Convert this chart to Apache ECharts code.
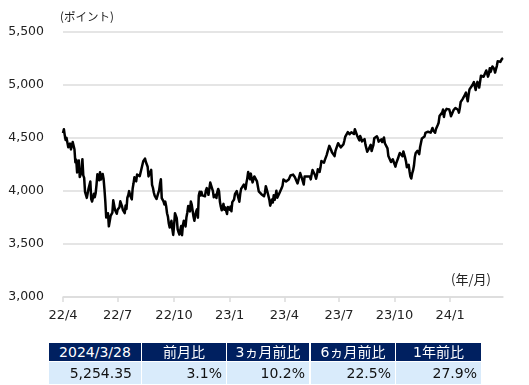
<!DOCTYPE html>
<html><head><meta charset="utf-8">
<script src="https://cdn.jsdelivr.net/npm/echarts@6/dist/echarts.min.js"></script>
<style>
html,body{margin:0;padding:0;background:#fff;width:529px;height:385px;overflow:hidden;}
#chart{position:absolute;left:0;top:0;width:529px;height:385px;}
.c{position:absolute;box-sizing:border-box;font-family:"DejaVu Sans","Noto Sans CJK JP",sans-serif;font-size:14px;white-space:nowrap;}
.h{background:#002060;color:#fff;text-align:center;height:18px;line-height:19px;}
.d{background:#d9ebfb;color:#111;text-align:right;height:22px;line-height:23px;padding-right:4px;}
</style></head><body>
<div id="chart"></div>
<div id="tbl"></div>
<script>
// Trading days (MMDD) and S&P 500 closes, one line per month
const days2022 = [
 '0401','0404','0405','0406','0407','0408','0411','0412','0413','0414','0418','0419','0420','0421','0422','0425','0426','0427','0428','0429',
 '0502','0503','0504','0505','0506','0509','0510','0511','0512','0513','0516','0517','0518','0519','0520','0523','0524','0525','0526','0527','0531',
 '0601','0602','0603','0606','0607','0608','0609','0610','0613','0614','0615','0616','0617','0621','0622','0623','0624','0627','0628','0629','0630',
 '0701','0705','0706','0707','0708','0711','0712','0713','0714','0715','0718','0719','0720','0721','0722','0725','0726','0727','0728','0729',
 '0801','0802','0803','0804','0805','0808','0809','0810','0811','0812','0815','0816','0817','0818','0819','0822','0823','0824','0825','0826','0829','0830','0831',
 '0901','0902','0906','0907','0908','0909','0912','0913','0914','0915','0916','0919','0920','0921','0922','0923','0926','0927','0928','0929','0930',
 '1003','1004','1005','1006','1007','1010','1011','1012','1013','1014','1017','1018','1019','1020','1021','1024','1025','1026','1027','1028','1031',
 '1101','1102','1103','1104','1107','1108','1109','1110','1111','1114','1115','1116','1117','1118','1121','1122','1123','1125','1128','1129','1130',
 '1201','1202','1205','1206','1207','1208','1209','1212','1213','1214','1215','1216','1219','1220','1221','1222','1223','1227','1228','1229','1230'
];
const close2022 = [
 4545.9,4582.6,4525.1,4481.2,4500.2,4488.3,4412.5,4397.5,4446.6,4392.6,4391.7,4462.2,4459.5,4393.7,4271.8,4296.1,4175.2,4183.9,4287.5,4131.9,
 4155.4,4175.5,4300.2,4146.9,4123.3,3991.2,4001.1,3935.2,3930.1,4023.9,4008.0,4088.9,3923.7,3900.8,3901.4,3973.8,3941.5,3978.7,4057.8,4158.2,4132.2,
 4101.2,4176.8,4108.5,4121.4,4160.7,4115.8,4017.8,3900.9,3749.6,3735.5,3790.0,3666.8,3674.8,3764.8,3759.9,3795.7,3911.7,3900.1,3821.6,3818.8,3785.4,
 3825.3,3831.4,3845.1,3902.6,3899.4,3854.4,3818.8,3801.8,3790.4,3863.2,3830.9,3936.7,3959.9,3998.9,3961.6,3966.8,3921.1,4023.6,4072.4,4130.3,
 4118.6,4091.2,4155.2,4151.9,4145.2,4140.1,4122.5,4210.2,4207.3,4280.2,4297.1,4305.2,4274.0,4283.7,4228.5,4137.9,4128.7,4140.8,4199.1,4057.7,4030.6,3986.2,3955.0,
 3966.9,3924.3,3908.2,3979.9,4006.2,4067.4,4110.4,3932.7,3946.0,3901.4,3873.3,3899.9,3855.9,3789.9,3758.0,3693.2,3655.0,3647.3,3719.0,3640.5,3585.6,
 3678.4,3790.9,3783.3,3744.5,3639.7,3612.4,3588.8,3577.0,3669.9,3583.1,3678.0,3720.0,3695.2,3665.8,3752.8,3797.3,3859.1,3830.6,3807.3,3901.1,3872.0,
 3856.1,3759.7,3719.9,3770.6,3806.8,3828.1,3748.6,3956.4,3992.9,3957.3,3991.7,3958.8,3946.6,3965.3,3949.9,4003.6,4027.3,4026.1,3963.9,3957.6,4080.1,
 4076.6,4071.7,3998.8,3941.3,3933.9,3963.5,3934.4,3990.6,4019.7,3995.3,3895.8,3852.4,3817.7,3821.6,3878.4,3822.4,3844.8,3829.3,3783.2,3849.3,3839.5
];
const days2023 = [
 '0103','0104','0105','0106','0109','0110','0111','0112','0113','0117','0118','0119','0120','0123','0124','0125','0126','0127','0130','0131',
 '0201','0202','0203','0206','0207','0208','0209','0210','0213','0214','0215','0216','0217','0221','0222','0223','0224','0227','0228',
 '0301','0302','0303','0306','0307','0308','0309','0310','0313','0314','0315','0316','0317','0320','0321','0322','0323','0324','0327','0328','0329','0330','0331',
 '0403','0404','0405','0406','0410','0411','0412','0413','0414','0417','0418','0419','0420','0421','0424','0425','0426','0427','0428',
 '0501','0502','0503','0504','0505','0508','0509','0510','0511','0512','0515','0516','0517','0518','0519','0522','0523','0524','0525','0526','0530','0531',
 '0601','0602','0605','0606','0607','0608','0609','0612','0613','0614','0615','0616','0620','0621','0622','0623','0626','0627','0628','0629','0630',
 '0703','0705','0706','0707','0710','0711','0712','0713','0714','0717','0718','0719','0720','0721','0724','0725','0726','0727','0728','0731',
 '0801','0802','0803','0804','0807','0808','0809','0810','0811','0814','0815','0816','0817','0818','0821','0822','0823','0824','0825','0828','0829','0830','0831',
 '0901','0905','0906','0907','0908','0911','0912','0913','0914','0915','0918','0919','0920','0921','0922','0925','0926','0927','0928','0929',
 '1002','1003','1004','1005','1006','1009','1010','1011','1012','1013','1016','1017','1018','1019','1020','1023','1024','1025','1026','1027','1030','1031',
 '1101','1102','1103','1106','1107','1108','1109','1110','1113','1114','1115','1116','1117','1120','1121','1122','1124','1127','1128','1129','1130',
 '1201','1204','1205','1206','1207','1208','1211','1212','1213','1214','1215','1218','1219','1220','1221','1222','1226','1227','1228','1229'
];
const close2023 = [
 3824.1,3853.0,3808.1,3895.1,3892.1,3919.3,3969.6,3983.2,3999.1,3991.0,3928.9,3898.9,3972.6,4019.8,4017.0,4016.2,4060.4,4070.6,4017.8,4076.6,
 4119.2,4179.8,4136.5,4111.1,4164.0,4117.9,4081.5,4090.5,4137.3,4136.1,4147.6,4090.4,4079.1,3997.3,3991.1,4012.3,3970.0,3982.2,3970.2,
 3951.4,3981.4,4045.6,4048.4,3986.4,3992.0,3918.3,3861.6,3855.8,3919.3,3891.9,3960.3,3916.6,3951.6,4002.9,3937.0,3948.7,3971.0,3977.5,3971.3,4027.8,4050.8,4109.3,
 4124.5,4100.6,4090.4,4105.0,4109.1,4108.9,4092.0,4146.2,4137.6,4151.3,4154.9,4154.5,4129.8,4133.5,4137.0,4071.6,4056.0,4135.4,4169.5,
 4167.9,4119.6,4090.8,4061.2,4136.3,4138.1,4119.2,4137.6,4130.6,4124.1,4136.3,4109.9,4158.8,4198.1,4192.0,4192.6,4145.6,4115.2,4151.3,4205.5,4205.5,4179.8,
 4221.0,4282.4,4273.8,4283.9,4267.5,4293.9,4298.9,4338.9,4369.0,4372.6,4426.0,4409.6,4388.7,4365.7,4381.9,4348.3,4328.8,4378.4,4376.9,4396.4,4450.4,
 4455.6,4446.8,4411.6,4399.0,4409.5,4439.3,4472.2,4510.0,4505.4,4522.8,4555.0,4565.7,4534.9,4536.3,4554.6,4567.5,4566.8,4537.4,4582.2,4589.0,
 4576.7,4513.4,4501.9,4478.0,4518.4,4499.4,4467.7,4468.8,4464.1,4489.7,4437.9,4404.3,4370.4,4369.7,4399.8,4387.6,4436.0,4376.3,4405.7,4433.3,4497.6,4514.9,4507.7,
 4515.8,4496.8,4465.5,4451.1,4457.5,4487.5,4461.9,4467.4,4505.1,4450.3,4453.5,4444.0,4402.2,4330.0,4320.1,4337.4,4273.5,4274.5,4299.7,4288.1,
 4288.4,4229.5,4263.8,4258.2,4308.5,4335.7,4358.2,4377.0,4349.6,4327.8,4373.6,4373.2,4314.6,4278.0,4224.2,4217.0,4247.7,4186.8,4137.2,4117.4,4166.8,4193.8,
 4237.9,4317.8,4358.3,4366.0,4378.4,4382.8,4347.4,4415.2,4411.6,4495.7,4502.9,4508.2,4514.0,4547.4,4538.2,4556.6,4559.3,4550.4,4554.9,4550.6,4567.8,
 4594.6,4569.8,4567.2,4549.3,4585.6,4604.4,4622.4,4643.7,4707.1,4719.6,4719.2,4740.6,4768.4,4698.4,4746.8,4754.6,4774.8,4781.6,4783.4,4769.8
];
const days2024 = [
 '0102','0103','0104','0105','0108','0109','0110','0111','0112','0116','0117','0118','0119','0122','0123','0124','0125','0126','0129','0130','0131',
 '0201','0202','0205','0206','0207','0208','0209','0212','0213','0214','0215','0216','0220','0221','0222','0223','0226','0227','0228','0229',
 '0301','0304','0305','0306','0307','0308','0311','0312','0313','0314','0315','0318','0319','0320','0321','0322','0325','0326','0327','0328'
];
const close2024 = [
 4742.8,4704.8,4688.7,4697.2,4763.5,4756.5,4783.5,4780.2,4783.8,4766.0,4739.2,4780.9,4839.8,4850.4,4864.6,4868.6,4894.2,4891.0,4927.9,4925.0,4845.7,
 4906.2,4958.6,4942.8,4954.2,4995.1,4997.9,5026.6,5021.8,4953.2,5000.6,5029.7,5005.6,4975.5,4981.8,5087.0,5088.8,5069.5,5078.2,5069.8,5096.3,
 5137.1,5131.0,5078.7,5104.8,5157.4,5123.7,5117.9,5175.3,5165.3,5150.5,5117.1,5149.4,5178.5,5224.6,5241.5,5234.2,5218.2,5203.6,5248.5,5254.35
];
const yTicks = [3000, 3500, 4000, 4500, 5000, 5500];
const quarterMonths = [1, 4, 7, 10];
const yUnit = '(ポイント)';
const xUnit = '(年/月)';
const tableHeaders = ['2024/3/28', '前月比', '3ヵ月前比', '6ヵ月前比', '1年前比'];
const tableValues = ['5,254.35', '3.1%', '10.2%', '22.5%', '27.9%'];

const dates = [].concat(
  days2022.map(d => '22' + d),
  days2023.map(d => '23' + d),
  days2024.map(d => '24' + d)
);
const closes = [].concat(close2022, close2023, close2024);

const monthOf = s => +s.slice(2, 4);
const isQ = (i) => {
  if (i === 0) return true;
  const m = monthOf(dates[i]);
  return m !== monthOf(dates[i - 1]) && quarterMonths.indexOf(m) >= 0;
};
const fmtX = (v) => v.slice(0, 2) + '/' + (+v.slice(2, 4));

const chart = echarts.init(document.getElementById('chart'), null, {renderer: 'canvas'});
const gridColor = '#dcdcdc';
chart.setOption({
  animation: false,
  grid: {left: 63, right: 26, top: 32, bottom: 88},
  xAxis: {
    type: 'category', data: dates, boundaryGap: false,
    axisLine: {lineStyle: {color: gridColor, width: 1.5}},
    axisTick: {interval: isQ, length: 5, lineStyle: {color: gridColor, width: 1.5}},
    axisLabel: {interval: isQ, formatter: fmtX, color: '#222', fontSize: 13,
      fontFamily: 'DejaVu Sans', margin: 12},
    splitLine: {show: false}
  },
  yAxis: {
    type: 'value', min: yTicks[0], max: yTicks[yTicks.length - 1], interval: 500,
    axisLine: {show: false}, axisTick: {show: false},
    axisLabel: {formatter: v => v.toLocaleString('en-US'), color: '#222', fontSize: 12.5,
      fontFamily: 'DejaVu Sans', margin: 19},
    splitLine: {lineStyle: {color: gridColor, width: 1.5}}
  },
  series: [{
    type: 'line', data: closes, symbol: 'none', showSymbol: false,
    lineStyle: {color: '#000', width: 2.5, join: 'round'}, z: 5
  }],
  graphic: [
    {type: 'text', left: 60, top: 11, style: {text: yUnit, fill: '#222',
      font: '11.5px "Noto Sans CJK JP", sans-serif'}},
    {type: 'text', left: 451, top: 273, style: {text: xUnit, fill: '#222',
      font: '13px "Noto Sans CJK JP", sans-serif'}}
  ]
});

// Summary table
const colX = [49, 142, 227, 311, 396];
const colW = [92, 84, 82, 84, 85];
const tbl = document.getElementById('tbl');
tableHeaders.forEach((t, i) => {
  const h = document.createElement('div');
  h.className = 'c h';
  h.style.left = colX[i] + 'px'; h.style.top = '343px'; h.style.width = colW[i] + 'px';
  h.textContent = t;
  tbl.appendChild(h);
  const d = document.createElement('div');
  d.className = 'c d';
  d.style.left = colX[i] + 'px'; d.style.top = '362px'; d.style.width = colW[i] + 'px';
  if (i === 0) d.style.paddingRight = '9px';
  d.textContent = tableValues[i];
  tbl.appendChild(d);
});
</script>
</body></html>
